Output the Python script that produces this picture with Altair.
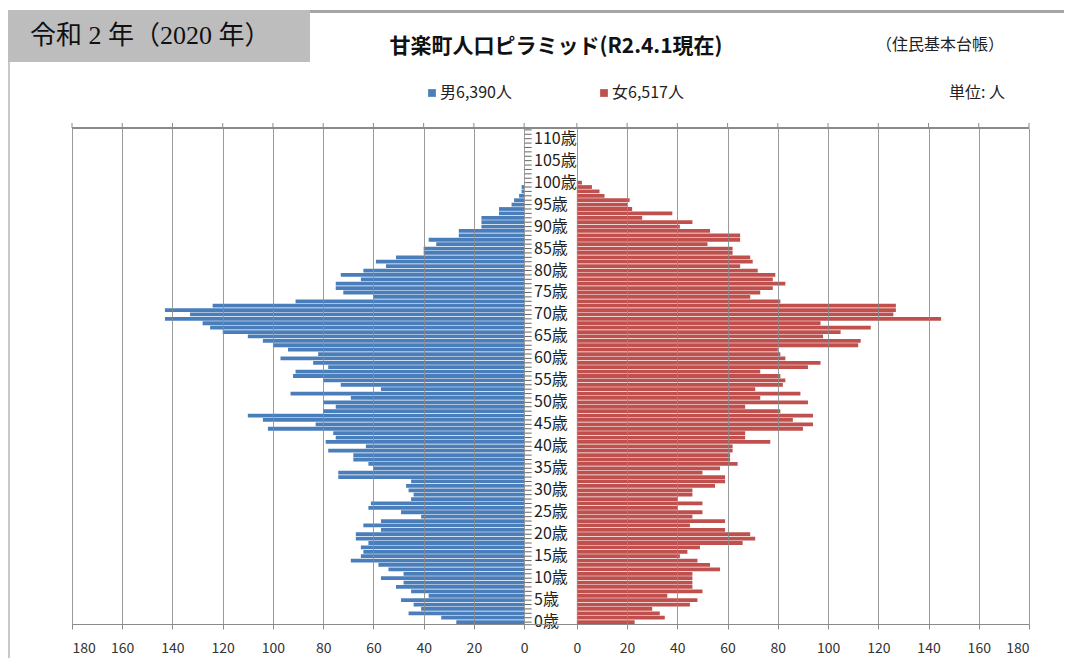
import altair as alt
import pandas as pd

# ---- data -----------------------------------------------------------
ages = list(range(0, 113))
male = [27, 33, 46, 41, 44, 49, 38, 45, 51, 48,
        57, 48, 54, 58, 69, 65, 64, 65, 62, 67,
        67, 57, 64, 57, 41, 49, 62, 61, 45, 44,
        46, 47, 45, 74, 74, 60, 62, 68, 68, 78,
        63, 79, 75, 76, 102, 83, 104, 110, 80, 75,
        80, 69, 93, 57, 73, 80, 92, 91, 78, 84,
        97, 82, 94, 100, 104, 110, 120, 125, 128, 143,
        133, 143, 124, 91, 60, 72, 75, 75, 65, 73,
        64, 55, 59, 51, 40, 40, 35, 38, 26, 26,
        17, 17, 17, 10, 10, 5, 4, 2, 1, 1,
        0, 0, 0, 0, 0, 0, 0, 0, 0, 0, 0, 0, 0]
female = [23, 35, 33, 30, 45, 48, 36, 50, 46, 46,
          46, 46, 57, 53, 48, 41, 44, 49, 66, 71,
          69, 59, 45, 59, 46, 50, 40, 50, 40, 46,
          46, 55, 59, 59, 50, 57, 64, 61, 61, 62,
          62, 77, 67, 67, 90, 94, 86, 94, 81, 67,
          92, 73, 89, 71, 82, 83, 81, 73, 92, 97,
          83, 81, 80, 112, 113, 98, 105, 117, 97, 145,
          126, 127, 127, 81, 69, 73, 78, 83, 78, 79,
          72, 65, 70, 69, 62, 62, 52, 65, 65, 53,
          41, 46, 26, 38, 22, 20, 21, 11, 9, 6,
          2, 0, 0, 0, 0, 0, 0, 0, 0, 0, 0, 0, 0]
label_ages = list(range(0, 111, 5))
tick_values = list(range(0, 181, 20))

title_text = "甘楽町人口ピラミッド(R2.4.1現在)"
era_text = "令和 2 年（2020 年）"
source_text = "（住民基本台帳）"
unit_text = "単位: 人"
male_legend = "男6,390人"
female_legend = "女6,517人"

BLUE = "#4a7ebb"
RED = "#c0504d"
GRID = "#8a8a8a"
FONT = "Noto Sans CJK JP"

W, H = 957, 496
GAP = 10.5
XMAX = 190.5

df = pd.DataFrame({
    "age": ages * 2,
    "sex": ["M"] * len(ages) + ["F"] * len(ages),
    "value": male + female,
})
lab_df = pd.DataFrame({"age": label_ages, "label": [f"{a}歳" for a in label_ages]})
grid_vals = [-(GAP + v) for v in tick_values[::-1]] + [GAP + v for v in tick_values]
grid_df = pd.DataFrame({"g": grid_vals})
tick_df = pd.DataFrame({"age": ages})

xscale = alt.Scale(domain=[-XMAX, XMAX], nice=False, zero=False)
yscale = alt.Scale(domain=list(range(112, -1, -1)), paddingInner=0.14, paddingOuter=0)

label_expr = f"format(abs(datum.value) - {GAP}, 'd')"

bars = alt.Chart(df).transform_calculate(
    x0=f"datum.sex == 'M' ? {-GAP} : {GAP}",
    x1=f"datum.sex == 'M' ? {-GAP} - datum.value : {GAP} + datum.value",
).mark_bar().encode(
    x=alt.X("x0:Q", scale=xscale, title=None,
            axis=alt.Axis(values=grid_vals, labelExpr=label_expr, grid=True,
                          gridColor=GRID, gridOpacity=0.85, domainColor=GRID,
                          tickColor=GRID, tickSize=5, labelFontSize=14,
                          labelColor="#333333", labelPadding=12, labelFont=FONT,
                          zindex=1)),
    x2="x1:Q",
    y=alt.Y("age:O", scale=yscale, axis=None),
    color=alt.Color("sex:N", scale=alt.Scale(domain=["M", "F"], range=[BLUE, RED]), legend=None),
)

top_line = alt.Chart(grid_df).mark_rule(color=GRID).encode(
    x=alt.datum(-XMAX), x2=alt.datum(XMAX), y=alt.value(0)
)
top_ticks = alt.Chart(grid_df).mark_rule(color=GRID).encode(
    x=alt.X("g:Q", scale=xscale), y=alt.value(-5), y2=alt.value(0)
)
cat_ticks = alt.Chart(tick_df).mark_rule(color="#666666", strokeWidth=1).encode(
    x=alt.datum(-GAP), x2=alt.datum(-GAP + 3),
    y=alt.Y("age:O", scale=yscale, axis=None),
)
age_labels = alt.Chart(lab_df).mark_text(
    align="left", baseline="middle", fontSize=16, font=FONT, color="#222222"
).encode(
    x=alt.value(462), y=alt.Y("age:O", scale=yscale, axis=None), text="label:N"
)

# ---- header / frame ---------------------------------------------------
one = pd.DataFrame({"k": [0]})
era_box = alt.Chart(one).mark_rect(color="#bdbdbd").encode(
    x=alt.value(-64), x2=alt.value(238), y=alt.value(-118), y2=alt.value(-66)
)
top_border = alt.Chart(one).mark_rect(color="#a6a6a6").encode(
    x=alt.value(238), x2=alt.value(992), y=alt.value(-118), y2=alt.value(-115)
)
left_border = alt.Chart(one).mark_rect(color="#c8c8c8").encode(
    x=alt.value(-64), x2=alt.value(-62), y=alt.value(-66), y2=alt.value(530)
)

def txt(s, x, y, size, align="center", weight="normal", color="#222222", font=FONT):
    return alt.Chart(one).mark_text(
        text=s, align=align, baseline="middle", fontSize=size,
        fontWeight=weight, color=color, font=font
    ).encode(x=alt.value(x), y=alt.value(y))

era = txt(era_text, -42, -92, 26, align="left", font=f"Liberation Serif, {FONT}", color="#111111")
title = txt(title_text, 484, -81, 21, weight="bold", color="#111111")
source = txt(source_text, 868, -83, 16)
unit = txt(unit_text, 905, -35, 16)
leg_m_txt = txt(male_legend, 368, -35, 16, align="left")
leg_f_txt = txt(female_legend, 540, -35, 16, align="left")
leg_m_sq = alt.Chart(one).mark_square(size=60, color=BLUE, opacity=1).encode(
    x=alt.value(360), y=alt.value(-35))
leg_f_sq = alt.Chart(one).mark_square(size=60, color=RED, opacity=1).encode(
    x=alt.value(532), y=alt.value(-35))

chart = alt.layer(
    era_box, top_border, left_border,
    bars, top_line, top_ticks, cat_ticks, age_labels,
    era, title, source, unit, leg_m_sq, leg_m_txt, leg_f_sq, leg_f_txt,
).properties(
    width=W, height=H,
    padding={"left": 64, "top": 120, "right": 35, "bottom": 34},
    autosize=alt.AutoSizeParams(type="none"),
).configure_view(stroke=None)

chart.save("out.html", embed_options={"renderer": "svg", "actions": False})
